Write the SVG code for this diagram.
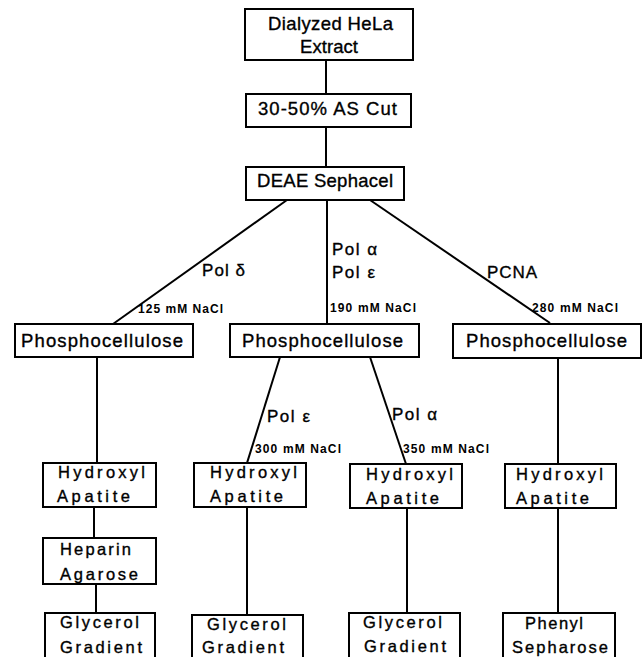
<svg xmlns="http://www.w3.org/2000/svg" width="644" height="657" viewBox="0 0 644 657">
<style>
.box{fill:#fff;stroke:#000;stroke-width:2}
.ln{fill:none;stroke:#000;stroke-width:2}
text{font-family:"Liberation Sans",Arial,sans-serif;fill:#000;stroke:#000;stroke-width:0.35}
.t{font-size:18.5px}
.b{font-size:16.5px}
.lb{font-size:17px}
.s{font-size:12px;font-weight:bold;stroke-width:0}
</style>
<rect width="644" height="657" fill="#fff"/>
<g id="connectors">
<line class="ln" x1="326" y1="60" x2="326" y2="94"/>
<line class="ln" x1="326" y1="127" x2="326" y2="167"/>
<line class="ln" x1="287" y1="200" x2="113" y2="324"/>
<line class="ln" x1="327" y1="200" x2="327" y2="324"/>
<line class="ln" x1="370" y1="200" x2="550" y2="323"/>
<line class="ln" x1="97" y1="357" x2="97" y2="463"/>
<line class="ln" x1="94" y1="507" x2="94" y2="538"/>
<line class="ln" x1="96" y1="584" x2="96" y2="613"/>
<line class="ln" x1="280" y1="357" x2="247" y2="463"/>
<line class="ln" x1="247" y1="507" x2="247" y2="615"/>
<line class="ln" x1="370" y1="357" x2="406" y2="464"/>
<line class="ln" x1="407" y1="508" x2="407" y2="613"/>
<line class="ln" x1="558" y1="358" x2="558" y2="464"/>
<line class="ln" x1="558" y1="508" x2="558" y2="613"/>
</g>
<g id="edge-labels">
<text class="lb" x="202" y="276" textLength="43">Pol δ</text>
<text class="s" x="138" y="313" textLength="85">125 mM NaCl</text>
<text class="lb" x="332" y="255" textLength="45">Pol α</text>
<text class="lb" x="332" y="278" textLength="43">Pol ε</text>
<text class="s" x="330" y="312" textLength="86">190 mM NaCl</text>
<text class="lb" x="487" y="278" textLength="50">PCNA</text>
<text class="s" x="532" y="312" textLength="86">280 mM NaCl</text>
<text class="lb" x="267" y="422" textLength="43">Pol ε</text>
<text class="s" x="255" y="453" textLength="86">300 mM NaCl</text>
<text class="lb" x="392" y="420" textLength="45">Pol α</text>
<text class="s" x="403" y="453" textLength="86">350 mM NaCl</text>
</g>
<g id="n-extract">
<rect class="box" x="245" y="9" width="168" height="51"/>
<text class="t" x="268" y="30" textLength="125">Dialyzed HeLa</text>
<text class="t" x="300" y="53" textLength="58">Extract</text>
</g>
<g id="n-ascut">
<rect class="box" x="246" y="94" width="165" height="33"/>
<text class="t" x="258" y="115" textLength="139">30-50% AS Cut</text>
</g>
<g id="n-deae">
<rect class="box" x="246" y="167" width="158" height="33"/>
<text class="t" x="257" y="187" textLength="136">DEAE Sephacel</text>
</g>
<g id="n-pc1">
<rect class="box" x="15" y="324" width="178" height="33"/>
<text class="t" x="21" y="347" textLength="162">Phosphocellulose</text>
</g>
<g id="n-pc2">
<rect class="box" x="230" y="324" width="189" height="33"/>
<text class="t" x="242" y="347" textLength="161">Phosphocellulose</text>
</g>
<g id="n-pc3">
<rect class="box" x="453" y="324" width="188" height="34"/>
<text class="t" x="466" y="347" textLength="161">Phosphocellulose</text>
</g>
<g id="n-ha1">
<rect class="box" x="43" y="463" width="113" height="44"/>
<text class="b" x="58" y="478" textLength="87">Hydroxyl</text>
<text class="b" x="57" y="502" textLength="73">Apatite</text>
</g>
<g id="n-heparin">
<rect class="box" x="43" y="538" width="113" height="46"/>
<text class="b" x="60" y="555" textLength="71">Heparin</text>
<text class="b" x="60" y="580" textLength="78">Agarose</text>
</g>
<g id="n-gly1">
<rect class="box" x="45" y="613" width="110" height="50"/>
<text class="b" x="60" y="628" textLength="79">Glycerol</text>
<text class="b" x="60" y="653" textLength="82">Gradient</text>
</g>
<g id="n-ha2">
<rect class="box" x="194" y="463" width="112" height="44"/>
<text class="b" x="210" y="478" textLength="87">Hydroxyl</text>
<text class="b" x="210" y="502" textLength="73">Apatite</text>
</g>
<g id="n-gly2">
<rect class="box" x="192" y="615" width="111" height="50"/>
<text class="b" x="207" y="630" textLength="79">Glycerol</text>
<text class="b" x="202" y="653" textLength="82">Gradient</text>
</g>
<g id="n-ha3">
<rect class="box" x="350" y="464" width="112" height="44"/>
<text class="b" x="366" y="480" textLength="87">Hydroxyl</text>
<text class="b" x="366" y="504" textLength="73">Apatite</text>
</g>
<g id="n-gly3">
<rect class="box" x="349" y="613" width="111" height="50"/>
<text class="b" x="363" y="628" textLength="79">Glycerol</text>
<text class="b" x="364" y="652" textLength="82">Gradient</text>
</g>
<g id="n-ha4">
<rect class="box" x="505" y="464" width="111" height="44"/>
<text class="b" x="516" y="480" textLength="87">Hydroxyl</text>
<text class="b" x="516" y="504" textLength="73">Apatite</text>
</g>
<g id="n-phenyl">
<rect class="box" x="503" y="613" width="112" height="50"/>
<text class="b" x="525" y="629" textLength="58">Phenyl</text>
<text class="b" x="512" y="653" textLength="96">Sepharose</text>
</g>
</svg>
